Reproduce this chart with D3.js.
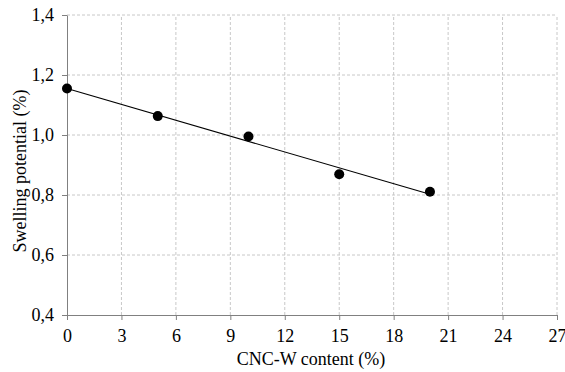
<!DOCTYPE html>
<html><head><meta charset="utf-8">
<script src="https://cdn.jsdelivr.net/npm/d3@7"></script>
<style>body{margin:0;background:#fff}svg{display:block}</style>
</head><body>
<script>
const xValues = [0, 5, 10, 15, 20];
const yValues = [1.155, 1.063, 0.995, 0.869, 0.811];
const xTicks = [0, 3, 6, 9, 12, 15, 18, 21, 24, 27];
const yTicks = [0.4, 0.6, 0.8, 1.0, 1.2, 1.4];
const xTitle = "CNC-W content (%)";
const yTitle = "Swelling potential (%)";

const W = 565, H = 372;
const m = {left: 67, right: 8, top: 15, bottom: 57};
const svg = d3.select("body").append("svg").attr("width", W).attr("height", H);
const x = d3.scaleLinear().domain([0, 27]).range([m.left, W - m.right]);
const y = d3.scaleLinear().domain([0.4, 1.4]).range([H - m.bottom, m.top]);
const font = "'Liberation Serif', 'Times New Roman', serif";

// grid
const g = svg.append("g");
g.selectAll(".vg").data(xTicks.slice(1)).join("line")
  .attr("x1", d => x(d)).attr("x2", d => x(d))
  .attr("y1", y(0.4)).attr("y2", y(1.4))
  .attr("stroke", "#c8c8c8").attr("stroke-dasharray", "3,2").attr("stroke-width", 1);
g.selectAll(".hg").data(yTicks.slice(1)).join("line")
  .attr("x1", x(0)).attr("x2", x(27))
  .attr("y1", d => y(d)).attr("y2", d => y(d))
  .attr("stroke", "#c8c8c8").attr("stroke-dasharray", "3,2").attr("stroke-width", 1);

// axes
const fmt = d => d3.format(".1f")(d).replace(".", ",");
const xa = svg.append("g").attr("transform", `translate(0,${y(0.4)})`)
  .call(d3.axisBottom(x).tickValues(xTicks).tickSize(5).tickSizeOuter(0).tickPadding(9));
const ya = svg.append("g").attr("transform", `translate(${x(0)},0)`)
  .call(d3.axisLeft(y).tickValues(yTicks).tickFormat(fmt).tickSize(5).tickSizeOuter(0).tickPadding(8));
[xa, ya].forEach(a => {
  a.select(".domain").attr("stroke", "#808080");
  a.selectAll(".tick line").attr("stroke", "#808080");
  a.selectAll("text").attr("font-family", font).attr("font-size", 18).attr("fill", "#000");
});

// trend line (least squares from data)
const mx = d3.mean(xValues), my = d3.mean(yValues);
const slope = d3.sum(xValues.map((v, i) => (v - mx) * (yValues[i] - my))) / d3.sum(xValues.map(v => (v - mx) ** 2));
const icpt = my - slope * mx;
const xs = d3.extent(xValues);
svg.append("line")
  .attr("x1", x(xs[0])).attr("y1", y(icpt + slope * xs[0]))
  .attr("x2", x(xs[1])).attr("y2", y(icpt + slope * xs[1]))
  .attr("stroke", "#000").attr("stroke-width", 1.1);

// points
svg.selectAll(".pt").data(xValues).join("circle")
  .attr("cx", d => x(d)).attr("cy", (d, i) => y(yValues[i])).attr("r", 5).attr("fill", "#000");

// titles
svg.append("text").attr("x", 311).attr("y", 365)
  .attr("text-anchor", "middle").attr("font-family", font).attr("font-size", 18).text(xTitle);
svg.append("text").attr("transform", `translate(26,171) rotate(-90)`)
  .attr("text-anchor", "middle").attr("font-family", font).attr("font-size", 18).text(yTitle);
</script>
</body></html>
